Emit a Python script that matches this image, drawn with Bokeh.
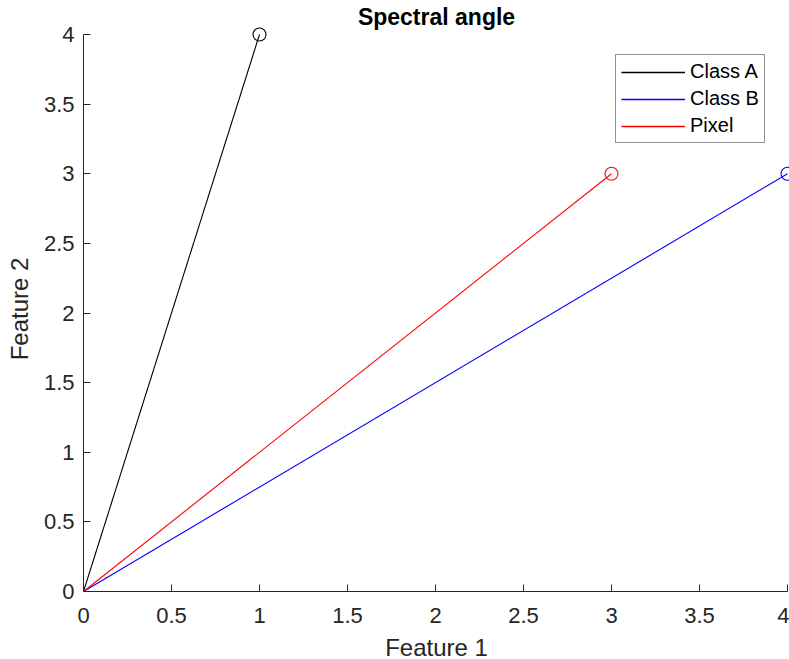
from bokeh.plotting import figure
from bokeh.models import Range1d, FixedTicker, Legend, LegendItem
from bokeh.embed import file_html
from bokeh.resources import INLINE

# Data
series_names = ["Class A", "Class B", "Pixel"]
feature1 = [1, 4, 3]
feature2 = [4, 3, 3]
series_colors = ["black", "blue", "red"]
tick_values = [0, 0.5, 1, 1.5, 2, 2.5, 3, 3.5, 4]
axis_min, axis_max = 0, 4

FONT = "Liberation Sans"
AX = "#262626"

p = figure(frame_width=706, frame_height=565, output_backend="svg", toolbar_location=None,
           x_range=Range1d(axis_min, axis_max + 0.0114),
           y_range=Range1d(axis_min, axis_max + 0.0575),
           min_border_left=83, min_border_right=0, min_border_top=26, min_border_bottom=68)
p.outline_line_color = None
p.xgrid.visible = False
p.ygrid.visible = False

p.title.text = "Spectral angle"
p.title.align = "center"
p.title.text_font = FONT
p.title.text_font_size = "23px"
p.title.text_font_style = "bold"
p.title.text_color = "#000000"
p.title.offset = 0
p.title.standoff = -7

items = []
for name, fx, fy, col in zip(series_names, feature1, feature2, series_colors):
    p.line(x=[0, fx], y=[0, fy], line_color=col, line_width=1.1)
    p.scatter(x=[fx], y=[fy], marker="circle", size=13, fill_color=None,
              line_color=col, line_width=1.1)
    key = p.line(x=[float("nan")], y=[float("nan")], line_color=col, line_width=1.5)
    items.append(LegendItem(label=name, renderers=[key]))

for ax, lab in ((p.xaxis[0], "Feature 1"), (p.yaxis[0], "Feature 2")):
    ax.ticker = FixedTicker(ticks=tick_values)
    ax.bounds = (axis_min, axis_max)
    ax.major_tick_in = 7
    ax.major_tick_out = 0
    ax.minor_tick_in = 0
    ax.minor_tick_out = 0
    ax.axis_line_color = AX
    ax.major_tick_line_color = AX
    ax.major_label_text_font = FONT
    ax.major_label_text_font_size = "22px"
    ax.major_label_text_color = AX
    ax.axis_label = lab
    ax.axis_label_text_font = FONT
    ax.axis_label_text_font_size = "24px"
    ax.axis_label_text_font_style = "normal"
    ax.axis_label_text_color = AX
    ax.major_label_standoff = 9
p.xaxis[0].major_label_standoff = 16
p.xaxis[0].axis_label_standoff = 8
p.yaxis[0].axis_label_standoff = 8

lg = Legend(items=items)
lg.location = (532, 448)
lg.border_line_color = AX
lg.border_line_width = 1
lg.background_fill_alpha = 1
lg.label_text_font = FONT
lg.label_text_font_size = "20px"
lg.label_text_color = "#000000"
lg.glyph_width = 64
lg.glyph_height = 20
lg.label_height = 20
lg.label_standoff = 5
lg.spacing = 4
lg.padding = 5
lg.margin = 0
p.add_layout(lg)

open("out.html", "w").write(file_html(p, INLINE))
